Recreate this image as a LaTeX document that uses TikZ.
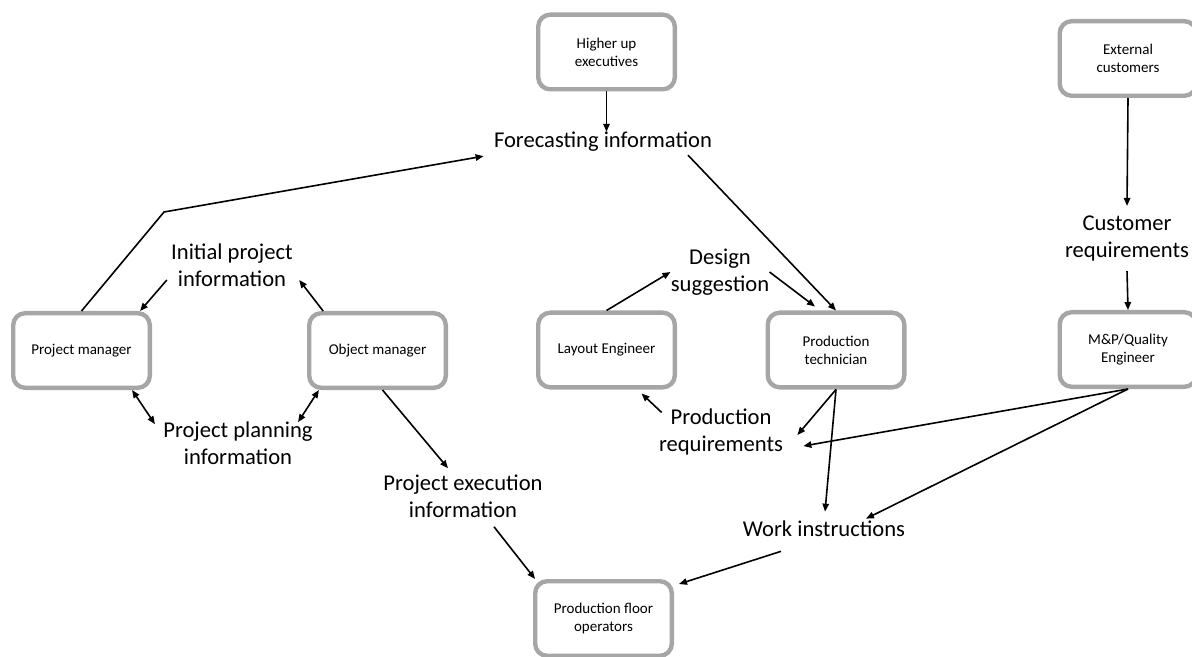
\documentclass[tikz,border=0pt]{standalone}
\usepackage{fontspec}
\setmainfont{Carlito}
\usetikzlibrary{arrows.meta,calc}
\definecolor{boxgray}{RGB}{166,166,166}

\begin{document}
\begin{tikzpicture}[x=0.5pt,y=-0.5pt]
        \tikzset{
        actor/.style={rectangle, rounded corners=6pt, draw=boxgray, line width=2.2pt,
        fill=white, minimum width=68.3pt, minimum height=37.3pt, inner sep=1pt,
        align=center, font=\fontsize{7.5}{9}\selectfont},
        info/.style={align=center, inner sep=0pt, font=\fontsize{11.3}{13.5}\selectfont},
        flow/.style={-{Triangle[length=4pt,width=3.2pt]}, line width=0.8pt},
        flow2/.style={{Triangle[length=4pt,width=3.2pt]}-{Triangle[length=4pt,width=3.2pt]}, line width=0.8pt},
        }
        \useasboundingbox (0,0) rectangle (1192,657);

        % people
        \node[actor] (exec) at (606.5,52) {Higher up\\executives};
        \node[actor] (cust) at (1128,58.5) {External\\customers};
        \node[actor] (pm) at (81.5,350.5) {Project manager};
        \node[actor] (om) at (377.5,350.5) {Object manager};
        \node[actor] (le) at (606.5,350) {Layout Engineer};
        \node[actor] (pt) at (836,350) {Production\\technician};
        \node[actor] (mpq) at (1128,349.5) {M\&P/Quality\\Engineer};
        \node[actor] (pfo) at (603.5,618.5) {Production floor\\operators};

        % information
        \node[info] (fc) at (603,142) {Forecasting information};
        \node[info] (ip) at (232,265) {Initial project\\information};
        \node[info] (pp) at (238,443) {Project planning\\information};
        \node[info] (pe) at (463,496) {Project execution\\information};
        \node[info] (ds) at (720,272) {Design\\suggestion};
        \node[info] (pr) at (721,432) {Production\\requirements};
        \node[info] (wi) at (824,529) {Work instructions};
        \node[info] (cr) at (1127,238) {Customer\\requirements};
        \coordinate (bend) at (164,212);

        \draw[flow] (exec.south) -- (exec.south |- fc.north);
        \draw[flow] ($(fc.south)+(85,3)$) -- (pt.north);
        \draw[flow] (pm.north) -- (bend) -- ($(fc.south west)+(-10,4)$);
        \draw[flow] ($(ip.west)+(-4,15)$) -- (pm.34);
        \draw[flow] (om.144) -- ($(ip.east)+(6,15)$);
        \draw[flow2] (pm.322) -- ($(pp.north west)+(-8,3)$);
        \draw[flow2] (om.214) -- ($(pp.north east)+(-15,1)$);
        \draw[flow] ($(om.south)+(5,0)$) -- ($(pe.north)+(-15,-6)$);
        \draw[flow] ($(pe.south)+(31,9)$) -- (pfo.150);
        \draw[flow] (le.north) -- (ds.west);
        \draw[flow] (ds.east) -- ($(pt.north)+(-21,-4)$);
        \draw[flow] ($(pr.north west)+(3,4)$) -- ($(le.south)+(35,4)$);
        \draw[flow] (pt.south) -- ($(pr.east)+(14,3)$);
        \draw[flow] (mpq.south) -- ($(pr.east)+(20,14)$);
        \draw[flow] (pt.south) -- ($(wi.north)+(1,-9)$);
        \draw[flow] (mpq.south) -- ($(wi.north)+(42,-2)$);
        \draw[flow] ($(wi.south)+(-43,14)$) -- ($(pfo.north east)+(5,5)$);
        \draw[flow] (cust.south) -- ($(cr.north)+(0,-9)$);
        \draw[flow] ($(cr.south)+(0,10)$) -- (mpq.north);
\end{tikzpicture}
\end{document}
